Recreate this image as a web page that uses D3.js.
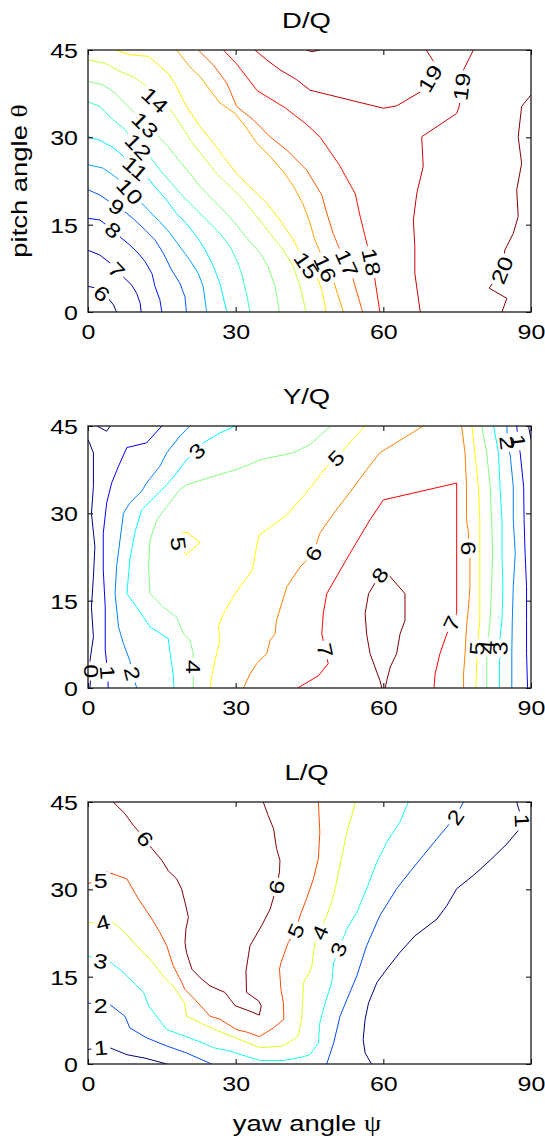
<!DOCTYPE html>
<html>
<head>
<meta charset="utf-8">
<script src="https://cdn.jsdelivr.net/npm/d3@7"></script>
<style>
  body { margin: 0; background: #fff; }
  text { font-family: "Liberation Sans", Arial, sans-serif; fill: #000; }
</style>
</head>
<body>
<svg id="fig" width="545" height="1142"></svg>
<script>
// ---- axes ----
const yawTicks   = [0, 30, 60, 90];
const pitchTicks = [0, 15, 30, 45];

// ---- D/Q : contour lines [level, [[yaw, pitch], ...]] ----
const dqRange = [6, 20];
const dqLines = [
  [6,  [[0,4.4],[1.8,4.1],[2.8,3.2],[4.1,2.35],[5.2,1.2],[5.8,0]]],
  [7,  [[0,10.6],[2.4,9.8],[4.5,8.4],[5.8,7.2],[7.2,6.0],[8.9,4.6],[9.9,3.2],[10.6,1.5],[10.8,0]]],
  [8,  [[0,16.1],[2.4,15.8],[3.8,14.9],[5.1,14.1],[6.5,12.9],[8.5,11.5],[10.2,10.1],[11.6,8.65],[13.0,6.6],[13.6,4.4],[14.6,2.1],[15.0,0]]],
  [9,  [[0,21.0],[2.4,20.1],[4.8,18.7],[5.8,18.1],[7.9,16.95],[9.5,15.8],[11.6,14.1],[13.6,12.4],[15.3,10.1],[17.0,7.2],[18.7,4.9],[19.7,2.6],[20.0,0]]],
  [10, [[0,25.3],[3.1,24.7],[5.1,23.5],[7.2,22.1],[8.5,20.7],[10.9,18.7],[12.6,17.2],[14.6,15.5],[16.7,13.5],[18.7,11.2],[20.7,8.9],[22.4,6.65],[23.4,4.4],[24.1,0]]],
  [11, [[0,30.1],[2.4,29.5],[4.8,28.4],[6.5,27.3],[9.6,24.7],[11.9,23.3],[13.6,21.5],[16.0,19.2],[18.0,16.9],[20.0,15.2],[22.1,12.95],[23.8,10.7],[25.5,7.8],[26.8,4.9],[28.2,0]]],
  [12, [[0,36.1],[2.4,35.3],[5.1,33.0],[7.2,31.6],[10.2,28.4],[12.3,27.0],[14.6,24.4],[17.0,22.1],[18.7,20.4],[21.4,18.1],[24.1,15.8],[26.8,13.5],[28.9,11.2],[30.2,8.9],[31.2,6.65],[32.2,3.2],[32.9,0]]],
  [13, [[0,39.6],[3.1,39.0],[5.5,37.6],[7.2,36.1],[9.2,34.4],[11.6,32.1],[14.0,30.4],[16.3,28.4],[18.4,26.1],[20.7,23.8],[22.8,21.5],[25.5,19.2],[27.8,17.2],[30.2,14.95],[32.6,12.4],[35.0,10.1],[36.6,7.8],[38.0,4.4],[38.9,0]]],
  [14, [[0,43.3],[3.5,42.7],[6.5,41.3],[9.2,40.4],[11.6,39.0],[13.6,36.4],[16.3,35.3],[18.7,32.4],[20.7,29.6],[23.4,26.7],[26.1,23.8],[28.9,21.5],[31.6,19.2],[34.3,16.4],[37.0,13.5],[39.7,10.65],[41.7,7.8],[43.1,4.4],[44.3,0]]],
  [15, [[5.5,45],[8.5,44.2],[12.3,43.9],[14.3,42.4],[16.3,41.0],[18.0,38.7],[20.0,35.3],[22.8,31.8],[25.5,29.0],[27.5,26.7],[30.2,23.8],[32.9,21.5],[36.3,18.7],[39.0,15.8],[41.7,12.4],[42.8,10.7],[44.4,8.0],[46.5,6.1],[47.5,3.8],[48.4,0]]],
  [16, [[18.0,45],[20.7,42.1],[22.8,40.4],[24.8,38.1],[26.8,35.9],[29.9,34.1],[32.2,31.6],[34.3,29.0],[37.0,26.7],[39.7,24.1],[41.8,21.5],[43.6,18.7],[44.9,15.8],[46.1,12.4],[47.1,10.4],[48.2,7.5],[49.8,5.5],[51.9,0]]],
  [17, [[22.4,45],[25.5,42.4],[28.2,39.3],[30.2,35.3],[33.6,33.0],[37.0,30.1],[40.4,27.8],[44.4,24.4],[47.5,20.1],[48.5,17.0],[49.8,13.5],[51.2,10.65],[52.6,8.4],[53.9,5.5],[55.8,0]]],
  [18, [[27.5,45],[30.2,42.6],[34.4,38.0],[40.0,35.1],[44.3,32.3],[47.2,30.0],[51.1,25.2],[54.3,20.3],[55.3,16.4],[56.7,11.6],[57.6,8.6],[58.3,5.5],[59.3,0]]],
  [19, [[33.9,45],[36.3,43.3],[39.0,41.6],[42.4,39.9],[45.1,38.1],[60.0,35.0],[62.7,35.4],[68.1,38.1],[69.5,40.1],[70.9,42.1],[68.7,45]]],
  [19, [[78.3,45],[76.3,41.6],[75.9,38.7],[75.4,35.3],[74.9,34.1],[67.8,30.1],[68.1,25.0],[66.8,20.4],[66.1,15.8],[66.4,11.2],[66.4,6.65],[67.5,0]]],
  [20, [[90,37.3],[88.1,35.3],[87.4,30.1],[88.1,25.5],[87.1,21.0],[87.4,16.4],[86.4,13.5],[84.7,10.65],[84.1,7.2],[81.5,4.1],[85.1,2.35],[84.1,0]]],
  [20, [[44.4,45],[45.5,44.7],[47.1,45]]]
];
// labels [level, yaw, pitch, (angle)]
const dqLabels = [
  [6,2.8,3.2],[7,5.8,7.2],[8,5.1,14.1],[9,5.8,18.1],[10,8.5,20.7],[11,9.6,24.7],[12,10.2,28.4],
  [13,11.6,32.1],[14,13.6,36.4],[15,44.4,8.0],[16,48.2,7.5],[17,52.6,8.4],[18,57.6,8.6],
  [19,69.5,40.1],[19,75.9,38.7],[20,84.1,7.2]
];

// ---- Y/Q ----
const yqRange = [0, 8];
const yqLines = [
  [0, [[0,42.7],[1.1,40.4],[1.1,34.6],[0.7,30.0],[1.4,24.3],[1.1,19.1],[0.7,13.9],[1.1,8.8],[0.4,4.7],[0.6,2.9],[0.4,0]]],
  [0, [[1.8,45],[3.8,44.1],[4.5,45]]],
  [0, [[89.5,45],[90,42.7]]],
  [1, [[15.0,45],[11.9,42.1],[7.9,41.3],[6.2,38.1],[4.8,35.2],[3.8,31.8],[3.1,26.6],[3.1,20.3],[3.5,13.9],[3.5,6.5],[4.0,2.7],[4.1,0]]],
  [1, [[87.1,45],[87.4,42.4],[87.8,40.4],[88.5,34.6],[88.6,28.9],[88.8,23.1],[89.1,17.4],[89.1,11.6],[89.1,5.9],[89.3,0]]],
  [2, [[20.7,45],[18.7,43.3],[16.0,40.4],[14.6,38.1],[11.9,35.2],[10.9,33.8],[8.5,31.8],[7.2,30.0],[6.5,25.4],[5.8,20.8],[5.5,16.2],[6.2,10.5],[7.2,7.6],[8.5,4.7],[9.0,2.5],[9.9,0]]],
  [2, [[85.1,45],[85.2,42.1],[85.8,39.8],[86.4,34.6],[86.4,28.9],[86.8,23.1],[86.4,17.4],[86.2,11.6],[86.1,5.9],[86.1,0]]],
  [3, [[29.9,45],[26.8,43.8],[23.4,42.1],[22.1,40.7],[20.0,39.2],[18.0,36.9],[16.0,34.9],[10.9,30.6],[9.5,26.6],[8.5,22.0],[7.9,16.2],[9.9,13.9],[12.6,10.5],[16.3,8.5],[16.7,5.9],[17.3,2.4],[17.5,0]]],
  [3, [[82.4,45],[83.4,40.4],[83.7,34.6],[84.1,28.9],[84.1,23.1],[84.3,17.4],[84.1,11.6],[83.7,8.8],[83.7,6.8],[83.6,4.7],[83.6,0]]],
  [4, [[49.3,45],[45.1,41.8],[41.7,40.4],[35.0,39.2],[30.2,37.5],[26.8,36.7],[20.0,34.9],[18.7,34.1],[16.0,31.2],[14.0,28.9],[12.6,25.4],[12.3,20.8],[12.6,16.2],[15.3,13.9],[18.0,12.2],[19.4,9.3],[20.7,8.2],[21.4,5.9],[21.4,3.6],[21.4,0]]],
  [4, [[80.0,45],[81.0,40.4],[81.7,34.6],[82.0,28.9],[82.2,23.1],[82.0,17.4],[81.7,11.6],[81.3,8.8],[81.1,7.0],[81.0,4.7],[81.0,0]]],
  [5, [[56.3,45],[52.8,41.8],[50.4,39.5],[48.6,38.1],[44.0,33.2],[40.1,29.5],[34.8,26.3],[34.1,23.7],[33.4,20.3],[29.9,16.2],[27.5,12.8],[26.5,10.5],[26.8,8.2],[25.8,4.7],[25.1,1.9],[24.8,0]]],
  [5, [[19.9,22.9],[18.4,24.8],[19.3,26.7],[20.1,26.7],[22.8,25.0],[19.9,22.9]]],
  [5, [[78.0,45],[78.6,40.4],[79.3,34.6],[79.6,28.9],[79.6,23.1],[79.6,17.4],[79.6,11.6],[79.3,8.8],[79.0,6.8],[79.0,4.7],[78.8,0]]],
  [6, [[68.1,45],[59.3,40.4],[56.6,37.5],[53.3,33.7],[49.9,30.0],[47.1,26.6],[45.8,23.1],[43.1,20.8],[40.4,17.4],[38.3,11.6],[38.0,9.3],[37.0,8.2],[36.3,5.9],[34.3,4.2],[32.9,2.4],[31.6,0]]],
  [6, [[75.9,45],[76.6,40.4],[76.9,34.6],[76.9,28.9],[77.3,26.6],[77.3,24.0],[77.6,22.6],[77.6,17.4],[77.3,13.9],[76.9,10.5],[76.6,5.9],[76.3,2.4],[76.3,0]]],
  [7, [[42.6,0],[46.8,2.1],[48.8,4.2],[48.2,6.5],[47.5,9.3],[47.8,12.8],[48.5,16.2],[53.2,23.1],[57.3,28.9],[60.0,32.3],[74.9,35.2],[74.9,12.8],[73.9,11.1],[72.9,9.3],[71.5,5.9],[70.5,2.4],[70.3,0]]],
  [8, [[59.7,0],[59.3,1.3],[58.3,3.6],[57.3,5.9],[56.6,9.3],[56.3,12.8],[57.0,16.2],[58.3,18.0],[59.3,19.4],[60.4,20.6],[61.4,19.1],[64.4,16.2],[64.4,11.6],[63.4,9.3],[62.7,5.9],[61.4,3.6],[60.7,1.3],[60.4,0]]]
];
const yqLabels = [
  [0,0.6,2.9],[1,4.0,2.7],[2,9.0,2.5],[3,22.1,40.7],[4,21.4,3.6],[5,50.4,39.5],[5,18.4,24.8],
  [6,45.8,23.1],[7,48.2,6.5],[8,59.3,19.4],[7,73.9,11.1],[6,77.3,24.0],[5,79.0,6.8],
  [4,81.1,7.0],[3,83.7,6.8],[2,85.2,42.1],[1,87.4,42.4]
];

// ---- L/Q ----
const lqRange = [1, 6];
const lqLines = [
  [1, [[0,2.5],[2.6,2.8],[4.4,2.8],[7.9,1.6],[11.6,1.0],[16.0,0]]],
  [1, [[57.6,0],[56.3,1.9],[55.9,4.2],[56.3,7.7],[57.0,10.5],[58.7,14.0],[60.7,16.3],[63.4,19.2],[66.4,22.0],[70.9,24.9],[72.9,27.2],[74.9,30.1],[78.3,32.4],[81.7,35.0],[85.1,37.8],[87.4,40.1],[88.2,41.8],[87.1,45]]],
  [2, [[0,10.5],[2.6,10.0],[4.0,10.5],[7.5,8.2],[8.5,6.2],[11.9,4.5],[16.0,3.1],[20.0,1.9],[25.1,0]]],
  [2, [[48.5,0],[49.9,3.6],[51.2,8.2],[53.2,12.3],[54.6,15.1],[56.6,20.3],[59.3,25.5],[62.7,30.1],[65.4,33.0],[68.1,35.8],[70.9,38.7],[72.9,40.7],[74.6,42.4],[76.3,45]]],
  [3, [[0,18.6],[2.6,17.7],[3.8,18.0],[7.2,15.7],[11.3,12.3],[12.3,10.0],[16.0,5.9],[18.7,5.1],[23.4,3.6],[25.5,2.8],[28.9,2.2],[32.2,1.3],[35.0,0.6],[39.8,0.6],[43.5,1.2],[45.1,1.6],[46.8,3.6],[47.1,7.1],[48.2,10.5],[49.5,14.0],[49.9,17.4],[50.9,19.7],[52.6,23.2],[54.6,26.0],[56.6,30.1],[58.7,34.7],[60.7,38.1],[63.4,41.6],[65.1,45]]],
  [4, [[0,24.3],[3.0,24.3],[3.8,25.2],[7.5,22.6],[9.9,20.3],[12.6,18.0],[15.3,15.1],[17.3,13.4],[19.7,10.3],[20.0,8.2],[22.8,7.1],[25.5,6.0],[29.9,4.5],[35.0,2.8],[39.7,3.1],[42.7,4.8],[43.4,7.7],[43.8,14.0],[45.4,16.4],[46.1,20.9],[47.1,22.6],[48.5,25.5],[49.5,27.8],[50.2,30.1],[51.5,35.3],[52.6,39.9],[53.6,42.7],[54.3,45]]],
  [5, [[0,31.0],[2.6,31.5],[3.8,33.0],[7.9,31.8],[10.2,28.4],[13.0,24.9],[14.6,22.6],[16.0,20.3],[17.3,16.9],[18.7,14.6],[19.7,12.8],[21.7,11.1],[24.8,8.2],[26.8,7.7],[30.2,5.9],[32.6,5.4],[34.8,4.7],[37.7,6.2],[39.8,7.7],[39.7,10.5],[39.2,12.8],[38.9,16.3],[39.2,17.4],[40.7,20.9],[42.2,22.9],[43.1,25.5],[44.4,28.4],[45.8,31.8],[46.8,35.3],[47.1,39.8],[46.8,45]]],
  [6, [[5.1,45],[7.5,43.0],[9.2,41.0],[11.6,38.7],[13.0,37.0],[15.0,35.0],[16.3,33.2],[18.0,31.8],[19.0,30.1],[19.7,27.8],[20.4,25.2],[19.9,23.2],[19.7,20.9],[20.0,19.2],[21.1,16.3],[22.8,14.8],[24.8,13.4],[27.8,12.3],[28.9,11.1],[29.9,10.0],[32.2,9.3],[34.8,8.4],[35.2,10.0],[34.7,10.8],[32.2,12.3],[32.1,16.0],[32.9,20.3],[35.3,23.8],[37.0,26.6],[38.3,30.4],[38.9,33.0],[39.0,35.0],[38.3,37.0],[37.7,40.4],[36.6,42.7],[35.6,45]]]
];
const lqLabels = [
  [1,2.6,2.8],[2,2.6,10.0],[3,2.6,17.7],[4,3.0,24.3],[5,2.6,31.5,0],[6,11.6,38.7],[6,38.3,30.4],
  [5,42.2,22.9],[4,47.1,22.6],[3,50.9,19.7],[2,74.6,42.4],[1,88.2,41.8]
];

// ---- layout ----
const W = 545, H = 1142;
const X0 = 88, X1 = 531, PH = 262;
const STRETCH = 1.22;          // text in the figure is set wide
const TICK_FS = 20.5, TITLE_FS = 22.5;

const panels = [
  { title: "D/Q", top: 50,  range: dqRange, lines: dqLines, labels: dqLabels },
  { title: "Y/Q", top: 426, range: yqRange, lines: yqLines, labels: yqLabels },
  { title: "L/Q", top: 802, range: lqRange, lines: lqLines, labels: lqLabels }
];

// MATLAB jet colormap
function jet(t) {
  const c = v => Math.max(0, Math.min(1, v));
  return d3.rgb(255 * c(1.5 - Math.abs(4 * t - 3)),
                255 * c(1.5 - Math.abs(4 * t - 2)),
                255 * c(1.5 - Math.abs(4 * t - 1))).formatHex();
}

const svg = d3.select("#fig");
const defs = svg.append("defs");
svg.append("rect").attr("width", W).attr("height", H).attr("fill", "#fff");

panels.forEach((p, pi) => {
  const top = p.top;
  const x = d3.scaleLinear().domain([0, 90]).range([X0, X1]);
  const y = d3.scaleLinear().domain([0, 45]).range([top + PH, top]);
  const color = l => jet((l - p.range[0]) / (p.range[1] - p.range[0]));

  defs.append("clipPath").attr("id", `clip${pi}`)
    .append("rect").attr("x", X0).attr("y", top).attr("width", X1 - X0).attr("height", PH);

  // place labels on their own contour, angle follows the line
  const placed = p.labels.map(([lev, yaw, pitch, ang]) => {
    const px = x(yaw), py = y(pitch);
    let best = null, bd = Infinity;
    p.lines.forEach(([l, pts]) => {
      if (l !== lev) return;
      pts.forEach((q, i) => {
        const d = (x(q[0]) - px) ** 2 + (y(q[1]) - py) ** 2;
        if (d < bd) { bd = d; best = { pts, i }; }
      });
    });
    let a = ang;
    if (a === undefined && best) {
      const { pts, i } = best;
      const p0 = pts[Math.max(0, i - 1)], p1 = pts[Math.min(pts.length - 1, i + 1)];
      a = Math.atan2(y(p1[1]) - y(p0[1]), x(p1[0]) - x(p0[0])) * 180 / Math.PI;
      if (a > 90) a -= 180;
      if (a <= -90) a += 180;
    }
    const w = String(lev).length * TICK_FS * 0.556 * STRETCH + 5;
    return { lev, px, py, a: a || 0, w };
  });

  // one mask per level: cut a gap where that level's labels sit
  const levels = [...new Set(p.lines.map(d => d[0]))];
  levels.forEach(l => {
    const m = defs.append("mask").attr("id", `m${pi}_${l}`)
      .attr("maskUnits", "userSpaceOnUse")
      .attr("x", 0).attr("y", 0).attr("width", W).attr("height", H);
    m.append("rect").attr("width", W).attr("height", H).attr("fill", "#fff");
    placed.filter(d => d.lev === l).forEach(d => {
      m.append("rect")
        .attr("x", -d.w / 2).attr("y", -8.5).attr("width", d.w).attr("height", 17)
        .attr("transform", `translate(${d.px},${d.py}) rotate(${d.a})`)
        .attr("fill", "#000");
    });
  });

  const line = d3.line().x(d => x(d[0])).y(d => y(d[1]));
  svg.append("g").attr("clip-path", `url(#clip${pi})`)
    .selectAll("path")
    .data(p.lines)
    .join("path")
    .attr("d", d => line(d[1]))
    .attr("fill", "none")
    .attr("stroke", d => color(d[0]))
    .attr("stroke-width", 1)
    .attr("stroke-linejoin", "round")
    .attr("mask", d => `url(#m${pi}_${d[0]})`);

  // contour labels
  svg.append("g").selectAll("text")
    .data(placed)
    .join("text")
    .attr("transform", d => `translate(${d.px},${d.py}) rotate(${d.a}) scale(${STRETCH},1)`)
    .attr("text-anchor", "middle")
    .attr("dy", "0.36em")
    .attr("font-size", TICK_FS)
    .text(d => d.lev);

  // axes, ticks pointing inward
  const styleTicks = g => {
    g.select(".domain").remove();
    g.attr("font-family", null).attr("font-size", null);
    g.selectAll("line").attr("stroke", "#000");
  };
  svg.append("g").attr("transform", `translate(0,${top + PH})`)
    .call(d3.axisBottom(x).tickValues(yawTicks).tickSize(-5).tickPadding(12))
    .call(styleTicks)
    .selectAll("text").attr("font-size", TICK_FS).attr("transform", `scale(${STRETCH},1)`);
  svg.append("g").attr("transform", `translate(${X0},0)`)
    .call(d3.axisLeft(y).tickValues(pitchTicks).tickSize(-5).tickPadding(10))
    .call(styleTicks)
    .selectAll("text").attr("font-size", TICK_FS).attr("x", -10 / STRETCH)
    .attr("dy", "0.36em").attr("transform", `scale(${STRETCH},1)`);
  svg.append("g").attr("transform", `translate(0,${top})`)
    .call(d3.axisTop(x).tickValues(yawTicks).tickSize(-5).tickFormat(() => ""))
    .call(styleTicks);
  svg.append("g").attr("transform", `translate(${X1},0)`)
    .call(d3.axisRight(y).tickValues(pitchTicks).tickSize(-5).tickFormat(() => ""))
    .call(styleTicks);

  svg.append("rect")
    .attr("x", X0).attr("y", top).attr("width", X1 - X0).attr("height", PH)
    .attr("fill", "none").attr("stroke", "#1a1a1a").attr("stroke-width", 1.3);

  svg.append("text")
    .attr("transform", `translate(${(X0 + X1) / 2 - 3},${top - 21.7}) scale(${STRETCH},1)`)
    .attr("text-anchor", "middle")
    .attr("font-size", TITLE_FS)
    .text(p.title);
});

// axis titles
const yl = svg.append("text")
  .attr("transform", `translate(26.5,181) rotate(-90) scale(${STRETCH},1)`)
  .attr("text-anchor", "middle")
  .attr("font-size", TITLE_FS);
yl.append("tspan").text("pitch angle ");
yl.append("tspan").attr("font-family", "Liberation Serif, serif").text("θ");

const xl = svg.append("text")
  .attr("transform", `translate(307,1131) scale(${STRETCH},1)`)
  .attr("text-anchor", "middle")
  .attr("font-size", TITLE_FS);
xl.append("tspan").text("yaw angle ");
xl.append("tspan").attr("font-family", "Liberation Serif, serif").text("ψ");
</script>
</body>
</html>
